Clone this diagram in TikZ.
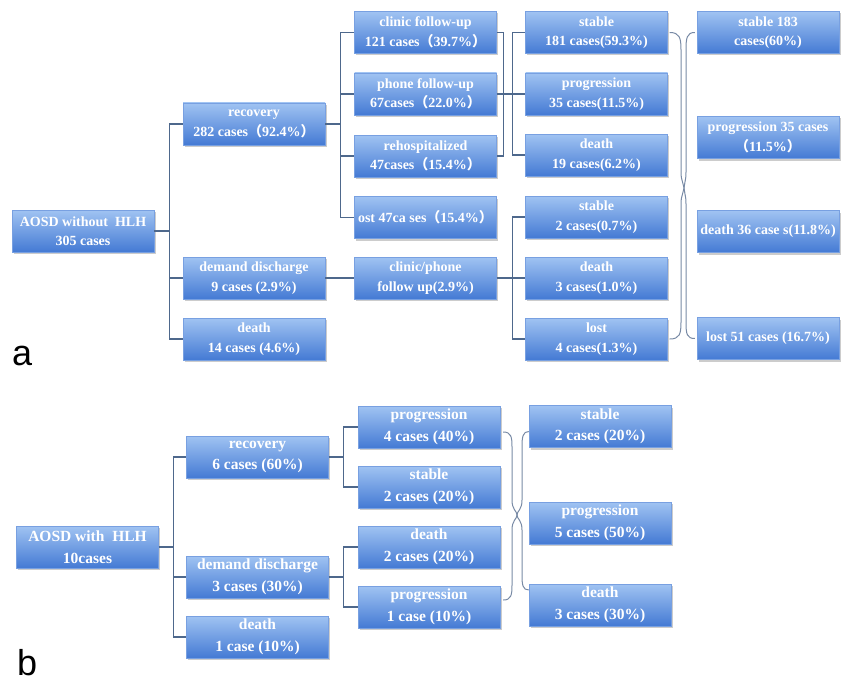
\documentclass[tikz,border=0pt]{standalone}
\usepackage{fontspec}
\setmainfont{Liberation Serif}
\setsansfont{Liberation Sans}
\newfontfamily\cjk{Noto Sans CJK SC}
\usetikzlibrary{shadows,calc}
\newcommand{\lpar}{{\cjk （}}
\newcommand{\rpar}{{\cjk ）}}
\definecolor{boxtop}{RGB}{160,195,242}
\definecolor{boxbot}{RGB}{68,122,212}
\definecolor{boxedge}{RGB}{120,160,225}
\definecolor{connc}{RGB}{78,104,140}
\definecolor{bracec}{RGB}{120,138,165}
\tikzset{
  box/.style={rectangle, minimum width=142pt, minimum height=42pt, inner sep=1pt,
    top color=boxtop, bottom color=boxbot, draw=boxedge, line width=0.4pt,
    text=white, align=center, font=\fontsize{14}{19.5}\selectfont\bfseries,
    drop shadow={shadow xshift=1.5pt, shadow yshift=-2pt, fill=black!40, opacity=0.5}},
  boxb/.style={box, font=\fontsize{15.5}{21.5}\selectfont\bfseries},
  conn/.style={draw=connc, line width=1.1pt},
  bracel/.style={draw=bracec, line width=1pt},
  panellabel/.style={font=\sffamily\fontsize{36}{36}\selectfont, anchor=base west, inner sep=0pt}
}
\begin{document}
\begin{tikzpicture}[x=1pt,y=-1pt]
\useasboundingbox (0,0) rectangle (848,682);
% ---------- panel a ----------
\node[box] (rootA) at (83,231) {AOSD without\ \ HLH\\305 cases};
\node[box] (recA) at (254,124) {recovery\\282 cases\lpar 92.4\%\rpar};
\node[box] (ddA) at (254,278) {demand discharge\\9 cases (2.9\%)};
\node[box] (deA) at (254,339) {death\\14 cases (4.6\%)};
\node[box] (clinic) at (425.5,32.5) {clinic follow-up\\121 cases\lpar 39.7\%\rpar};
\node[box] (phone) at (425.5,94) {phone follow-up\\67cases\lpar 22.0\%\rpar};
\node[box] (rehosp) at (425.5,156) {rehospitalized\\47cases\lpar 15.4\%\rpar};
\node[box] (lostA) at (425.5,217.5) {ost 47ca ses\lpar 15.4\%\rpar};
\node[box] (cp) at (425.5,278) {clinic/phone\\follow up(2.9\%)};
\node[box] (s181) at (596.5,32.5) {stable\\181 cases(59.3\%)};
\node[box] (p35) at (596.5,94) {progression\\35 cases(11.5\%)};
\node[box] (d19) at (596.5,155) {death\\19 cases(6.2\%)};
\node[box] (s2) at (596.5,217) {stable\\2 cases(0.7\%)};
\node[box] (d3) at (596.5,278) {death\\3 cases(1.0\%)};
\node[box] (l4) at (596.5,339) {lost\\4 cases(1.3\%)};
\node[box] (r1) at (768,32.5) {stable 183\\cases(60\%)};
\node[box] (r2) at (768,137.5) {progression 35 cases\\\lpar 11.5\%\rpar};
\node[box] (r3) at (768,231.5) {death 36 case s(11.8\%)};
\node[box] (r4) at (768,338.5) {lost 51 cases (16.7\%)};

\draw[conn] (rootA.east) -- ++(15,0) coordinate (ja);
\draw[conn] (ja) |- (recA.west);
\draw[conn] (ja) |- (ddA.west);
\draw[conn] (ja) |- (deA.west);
\draw[conn] (recA.east) -- ++(15,0) coordinate (jb);
\draw[conn] (jb) |- (clinic.west);
\draw[conn] (jb) |- (phone.west);
\draw[conn] (jb) |- (rehosp.west);
\draw[conn] (jb) |- (lostA.west);
\draw[conn] (clinic.east) -- ++(7,0) |- (rehosp.east);
\draw[conn] (phone.east) -- ++(16,0) coordinate (jc);
\draw[conn] (jc) |- (s181.west);
\draw[conn] (jc) |- (d19.west);
\draw[conn] (jc) -- (p35.west);
\draw[conn] (ddA.east) -- (cp.west);
\draw[conn] (cp.east) -- ++(16,0) coordinate (jd);
\draw[conn] (jd) |- (s2.west);
\draw[conn] (jd) |- (l4.west);
\draw[conn] (jd) -- (d3.west);

\coordinate (bt1) at ($(s181.east)+(2,0)$);
\coordinate (bb1) at ($(l4.east)+(2,0)$);
\coordinate (rt1) at ($(r1.west)+(-2,0)$);
\coordinate (rb1) at ($(r4.west)+(-2,0)$);
\draw[bracel] (bt1) .. controls +(10,0) and +(0,-12) .. (681,50) -- (681,172)
  .. controls (681,182) and (684,183) .. (684,188)
  .. controls (684,193) and (681,194) .. (681,204) -- (681,322)
  .. controls +(0,12) and +(10,0) .. (bb1);
\draw[bracel] (rt1) .. controls +(-8,0) and +(0,-12) .. (686,50) -- (686,172)
  .. controls (686,182) and (684,183) .. (684,188)
  .. controls (684,193) and (686,194) .. (686,204) -- (686,322)
  .. controls +(0,12) and +(-8,0) .. (rb1);

\node[panellabel] (la) at (12,365) {a};

% ---------- panel b ----------
\node[boxb] (rootB) at (87.5,547) {AOSD with\ \ HLH\\10cases};
\node[boxb] (recB) at (257.5,457) {recovery\\6 cases (60\%)};
\node[boxb] (ddB) at (257.5,577) {demand discharge\\3 cases (30\%)};
\node[boxb] (deB) at (257.5,637) {death\\1 case (10\%)};
\node[boxb] (bp4) at (429,427) {progression\\4 cases (40\%)};
\node[boxb] (bs2) at (429,487) {stable\\2 cases (20\%)};
\node[boxb] (bd2) at (429,547) {death\\2 cases (20\%)};
\node[boxb] (bp1) at (429,607) {progression\\1 case (10\%)};
\node[boxb] (bR1) at (600,426.5) {stable\\2 cases (20\%)};
\node[boxb] (bR2) at (600,523) {progression\\5 cases (50\%)};
\node[boxb] (bR3) at (600,605) {death\\3 cases (30\%)};

\draw[conn] (rootB.east) -- ++(15,0) coordinate (je);
\draw[conn] (je) |- (recB.west);
\draw[conn] (je) |- (ddB.west);
\draw[conn] (je) |- (deB.west);
\draw[conn] (recB.east) -- ++(15,0) coordinate (jf);
\draw[conn] (jf) |- (bp4.west);
\draw[conn] (jf) |- (bs2.west);
\draw[conn] (ddB.east) -- ++(15,0) coordinate (jg);
\draw[conn] (jg) |- (bd2.west);
\draw[conn] (jg) |- (bp1.west);

\coordinate (bl1) at ($(bp4.east)+(3,5)$);
\coordinate (bl2) at ($(bp1.east)+(3,-7)$);
\coordinate (br1) at ($(bR1.west)+(0,5)$);
\coordinate (br2) at ($(bR3.west)+(0,-15)$);
\draw[bracel] (bl1) .. controls +(8,0) and +(0,-10) .. (512,447) -- (512,500)
  .. controls (512,510) and (517,511) .. (517,515)
  .. controls (517,519) and (512,520) .. (512,530) -- (512,585)
  .. controls +(0,10) and +(8,0) .. (bl2);
\draw[bracel] (br1) .. controls +(-6,0) and +(0,-10) .. (522,447) -- (522,500)
  .. controls (522,510) and (517,511) .. (517,515)
  .. controls (517,519) and (522,520) .. (522,530) -- (522,575)
  .. controls +(0,10) and +(-6,0) .. (br2);

\node[panellabel] (lb) at (17,675) {b};
\end{tikzpicture}
\end{document}
